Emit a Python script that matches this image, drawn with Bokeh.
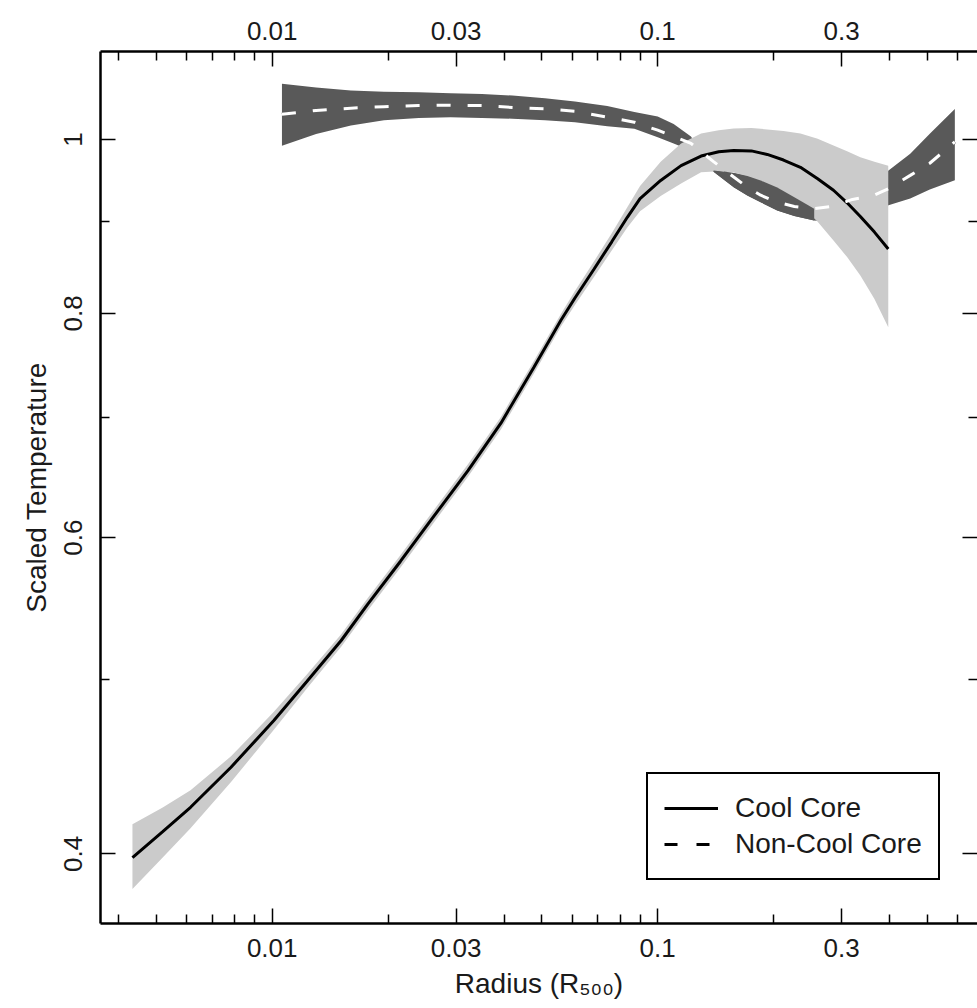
from bokeh.plotting import figure
from bokeh.models import (LogAxis, FixedTicker, CustomJSTickFormatter, Range1d,
                          Legend, LegendItem)
from bokeh.embed import file_html
from bokeh.resources import INLINE
import numpy as np

# ---------------- data ----------------
# Cool core: radius (R500), scaled temperature, band low / high
cc_r = [0.00434, 0.0052, 0.00614, 0.00782, 0.0101, 0.0123, 0.0151, 0.0177, 0.0215,
        0.0263, 0.0322, 0.0392, 0.0477, 0.0561, 0.0610, 0.0684, 0.0760, 0.0834,
        0.0900, 0.1018, 0.1150, 0.1296, 0.1440, 0.1575, 0.1750, 0.1924, 0.2120,
        0.2346, 0.2600, 0.2858, 0.3100, 0.3355, 0.3650, 0.3964]
cc_t = [0.398, 0.4115, 0.4246, 0.447, 0.4746, 0.499, 0.5259, 0.551, 0.582,
        0.617, 0.654, 0.695, 0.7464, 0.793, 0.816, 0.847, 0.877, 0.905,
        0.927, 0.9488, 0.967, 0.979, 0.9845, 0.986, 0.9855, 0.981, 0.974,
        0.965, 0.951, 0.937, 0.922, 0.906, 0.888, 0.869]
cc_lo = [0.3824, 0.3981, 0.4133, 0.4386, 0.4690, 0.4945, 0.5217, 0.5466, 0.5774,
         0.6121, 0.6488, 0.6894, 0.7405, 0.7867, 0.8087, 0.8386, 0.8673, 0.8933,
         0.912, 0.930, 0.945, 0.959, 0.960, 0.9585, 0.952, 0.942, 0.931,
         0.919, 0.900, 0.8785, 0.860, 0.840, 0.815, 0.786]
cc_hi = [0.4155, 0.4245, 0.4340, 0.4533, 0.4799, 0.5035, 0.5301, 0.5554, 0.5867,
         0.6220, 0.6592, 0.7006, 0.7524, 0.7994, 0.8234, 0.8555, 0.8867, 0.9168,
         0.942, 0.972, 0.995, 1.0077, 1.012, 1.0143, 1.015, 1.013, 1.011,
         1.0077, 1.001, 0.9923, 0.985, 0.9776, 0.972, 0.967]

# Non-cool core
ncc_r = [0.0106, 0.013, 0.016, 0.0195, 0.024, 0.029, 0.035, 0.042, 0.051, 0.061,
         0.074, 0.087, 0.100, 0.110, 0.122, 0.1396, 0.1575, 0.1708, 0.185, 0.2042,
         0.2262, 0.2547, 0.285, 0.32, 0.36, 0.397, 0.452, 0.508, 0.59]
ncc_t = [1.033, 1.038, 1.041, 1.043, 1.0445, 1.045, 1.0445, 1.042, 1.040, 1.037,
         1.029, 1.0225, 1.012, 1.004, 0.995, 0.972, 0.953, 0.9407, 0.931, 0.9227,
         0.9177, 0.9152, 0.918, 0.926, 0.930, 0.939, 0.955, 0.970, 0.997]
ncc_lo = [0.992, 1.007, 1.018, 1.025, 1.028, 1.029, 1.028, 1.027, 1.025, 1.0225,
          1.017, 1.0138, 1.003, 0.995, 0.986, 0.9595, 0.9407, 0.9307, 0.9227, 0.913,
          0.9065, 0.9013, 0.900, 0.905, 0.911, 0.919, 0.927, 0.938, 0.949]
ncc_hi = [1.074, 1.069, 1.065, 1.063, 1.0625, 1.061, 1.060, 1.058, 1.0545, 1.050,
          1.044, 1.036, 1.030, 1.020, 1.004, 0.961, 0.958, 0.9543, 0.9487, 0.9403,
          0.9287, 0.915, 0.925, 0.935, 0.946, 0.961, 0.9818, 1.0073, 1.040]

x_major = [0.01, 0.03, 0.1, 0.3]
x_minor = [0.004, 0.005, 0.006, 0.007, 0.008, 0.009, 0.02, 0.04, 0.05, 0.06,
           0.07, 0.08, 0.09, 0.2, 0.4, 0.5, 0.6]
y_major = [0.4, 0.6, 0.8, 1.0]
y_minor = [0.5, 0.7, 0.9]

series_names = ["Cool Core", "Non-Cool Core"]
x_title = "Radius (R\u2085\u2080\u2080)"
y_title = "Scaled Temperature"

# ---------------- figure ----------------
FONT = "Liberation Sans"
TXT = "#1a1a1a"
LIGHT = "#cbcbcb"
DARK = "#595959"

p = figure(width=977, height=1008,
           x_axis_type="log", y_axis_type="log",
           x_axis_location=None, y_axis_location=None,
           x_range=Range1d(0.003586, 0.6755), y_range=Range1d(0.3658, 1.1195),
           output_backend="svg", toolbar_location=None,
           min_border_left=100, min_border_right=0, min_border_top=51,
           min_border_bottom=85)
p.outline_line_color = None
p.background_fill_color = "white"
p.border_fill_color = "white"
p.xgrid.visible = False
p.ygrid.visible = False

fmt = CustomJSTickFormatter(code="return tick.toString();")
blank_fmt = CustomJSTickFormatter(code="return '';")


def style_axis(ax, labels=True, line=True):
    ax.axis_line_color = "black" if line else None
    ax.axis_line_width = 2.5
    ax.major_tick_in = 15
    ax.major_tick_out = 0
    ax.minor_tick_in = 9
    ax.minor_tick_out = 0
    ax.major_tick_line_width = 1.5
    ax.minor_tick_line_width = 1.5
    ax.major_tick_line_color = "black"
    ax.minor_tick_line_color = "black"
    ax.major_label_text_font = FONT
    ax.major_label_text_color = TXT
    ax.axis_label_text_font = FONT
    ax.axis_label_text_color = TXT
    ax.axis_label_text_font_style = "normal"
    ax.major_label_text_font_size = "26px"
    if labels:
        ax.formatter = fmt
    else:
        ax.formatter = blank_fmt
        ax.major_label_standoff = 0


xt = FixedTicker(ticks=x_major, minor_ticks=x_minor)
yt = FixedTicker(ticks=y_major, minor_ticks=y_minor)

bottom = LogAxis(ticker=xt, axis_label=x_title)
style_axis(bottom)
bottom.major_label_standoff = 15
bottom.axis_label_text_font_size = "28px"
bottom.axis_label_standoff = 8
top = LogAxis(ticker=xt)
style_axis(top)
top.major_label_standoff = 12
left = LogAxis(ticker=yt, axis_label=y_title)
style_axis(left)
left.major_label_orientation = "vertical"
left.major_label_standoff = 18
left.axis_label_text_font_size = "28px"
left.axis_label_standoff = 10
right = LogAxis(ticker=yt)
style_axis(right, labels=False, line=False)

p.add_layout(bottom, "below")
p.add_layout(top, "above")
p.add_layout(left, "left")
p.add_layout(right, "right")

# legend key for the non-cool-core curve (black dashed, hidden beneath the bands)
ncc_key = p.line(ncc_r, ncc_t, line_color="black", line_width=3,
                 line_dash="13 19", level="underlay")

# bands and lines
p.varea(x=ncc_r, y1=ncc_lo, y2=ncc_hi, fill_color=DARK)
p.varea(x=cc_r, y1=cc_lo, y2=cc_hi, fill_color=LIGHT)
ncc_r_a = np.array(ncc_r)
blob = (ncc_r_a >= 0.1396) & (ncc_r_a <= 0.2547)
p.varea(x=ncc_r_a[blob], y1=np.array(ncc_lo)[blob], y2=np.array(ncc_hi)[blob],
        fill_color=DARK)
cc_line = p.line(cc_r, cc_t, line_color="black", line_width=3)
p.line(ncc_r, ncc_t, line_color="white", line_width=3, line_dash="14 17")

legend = Legend(items=[LegendItem(label=series_names[0], renderers=[cc_line]),
                       LegendItem(label=series_names[1], renderers=[ncc_key])],
                location=(546, 43), orientation="vertical",
                border_line_color="black", border_line_width=2,
                border_line_alpha=1.0,
                background_fill_color="white", background_fill_alpha=1.0,
                padding=16, spacing=0, margin=0,
                glyph_width=54, glyph_height=36, label_height=36,
                label_standoff=17,
                label_text_font=FONT, label_text_font_size="28px",
                label_text_color=TXT)
p.add_layout(legend)

open("out.html", "w").write(file_html(p, INLINE))
